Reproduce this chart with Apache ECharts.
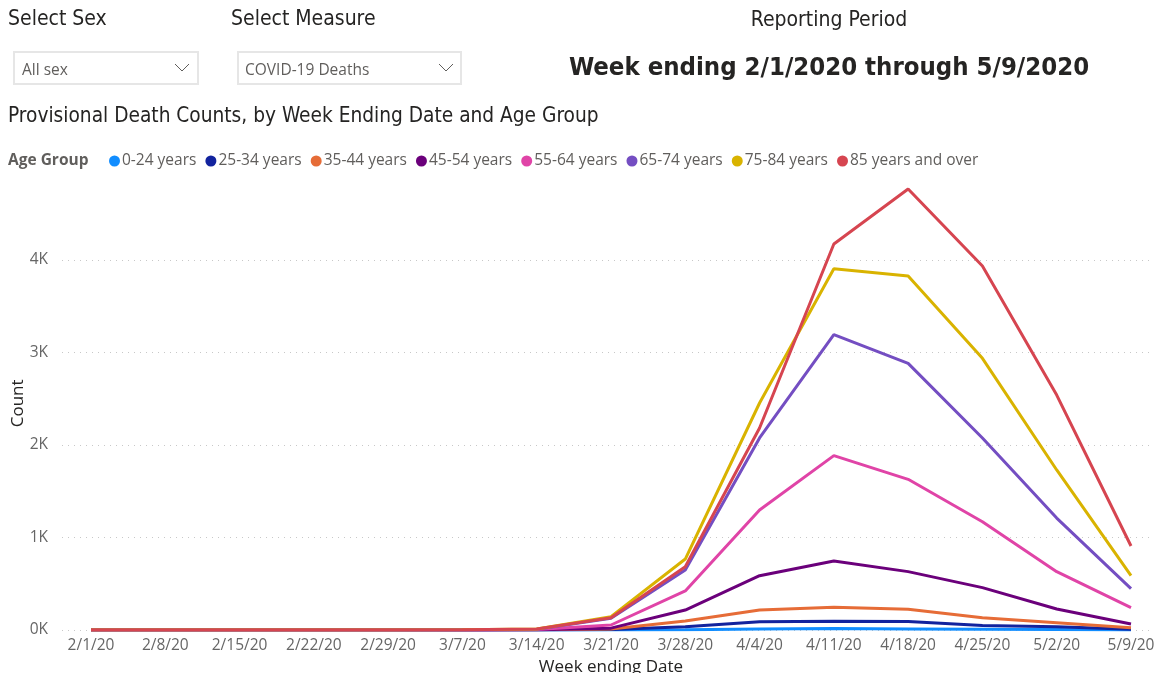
<!DOCTYPE html>
<html>
<head>
<meta charset="utf-8">
<title>Provisional Death Counts</title>
<script src="https://cdn.jsdelivr.net/npm/echarts@6/dist/echarts.min.js"></script>
<style>
  html, body { margin: 0; padding: 0; background: #fff; }
  #main { width: 1157px; height: 673px; }
</style>
</head>
<body>
<div id="main"></div>
<script>
// week ending dates
var weeks = ['2/1/20', '2/8/20', '2/15/20', '2/22/20', '2/29/20', '3/7/20', '3/14/20', '3/21/20',
  '3/28/20', '4/4/20', '4/11/20', '4/18/20', '4/25/20', '5/2/20', '5/9/20'];

// deaths per age group
var age0to24 = [0, 0, 0, 0, 0, 0, 0, 1, 4, 12, 16, 12, 9, 5, 1];
var age25to34 = [0, 0, 0, 0, 0, 0, 1, 6, 36, 90, 95, 92, 48, 36, 8];
var age35to44 = [0, 0, 0, 0, 0, 0, 2, 12, 97, 216, 245, 224, 133, 79, 25];
var age45to54 = [0, 0, 0, 0, 0, 0, 3, 20, 216, 587, 746, 631, 458, 227, 65];
var age55to64 = [0, 0, 0, 0, 0, 1, 5, 54, 422, 1297, 1885, 1629, 1171, 631, 241];
var age65to74 = [0, 0, 0, 0, 0, 1, 8, 128, 649, 2076, 3193, 2883, 2076, 1210, 447];
var age75to84 = [0, 0, 0, 0, 1, 2, 10, 144, 767, 2454, 3906, 3827, 2937, 1730, 587];
var age85plus = [0, 0, 0, 0, 1, 2, 10, 133, 684, 2184, 4173, 4768, 3935, 2540, 908];

var groupNames = ['0-24 years', '25-34 years', '35-44 years', '45-54 years',
  '55-64 years', '65-74 years', '75-84 years', '85 years and over'];
var groupData = [age0to24, age25to34, age35to44, age45to54, age55to64, age65to74, age75to84, age85plus];
var colors = ['#118DFF', '#12239E', '#E66C37', '#6B007B', '#E044A7', '#744EC2', '#D9B300', '#D64550'];

// y ticks 0K..4K, plot area runs a bit higher than the last tick
var yTickMax = 4000;
var yPlotMax = 4900;

var font = '"Segoe UI", "Open Sans", sans-serif';
var headFont = '"DejaVu Sans Condensed", "Roboto", sans-serif';

var chart = echarts.init(document.getElementById('main'));

var series = groupNames.map(function (name, i) {
  return {
    name: name,
    type: 'line',
    xAxisIndex: 1,
    yAxisIndex: 1,
    data: groupData[i],
    symbol: 'none',
    lineStyle: { width: 3, color: colors[i] },
    itemStyle: { color: colors[i] }
  };
});

var option = {
  backgroundColor: '#ffffff',
  color: colors,
  textStyle: { fontFamily: font },
  legend: {
    data: groupNames,
    left: 109,
    top: 153,
    padding: 0,
    icon: 'circle',
    itemWidth: 11,
    itemHeight: 11,
    itemGap: 9,
    textStyle: { fontSize: 15.5, color: '#605E5C', fontFamily: font, padding: [0, 0, 0, -3] }
  },
  grid: [
    // wide grid: dotted gridlines + y labels (0K..4K)
    { left: 62, right: 4, top: 260, bottom: 43, outerBoundsMode: 'none' },
    // data grid
    { left: 91, right: 26, top: 176.75, bottom: 43, outerBoundsMode: 'none' }
  ],
  xAxis: [
    { type: 'category', gridIndex: 0, data: weeks, show: false },
    {
      type: 'category',
      gridIndex: 1,
      data: weeks,
      boundaryGap: false,
      axisLine: { show: false },
      axisTick: { show: false },
      axisLabel: { interval: 0, color: '#666666', fontSize: 15.5, margin: 8, fontFamily: font },
      name: 'Week ending Date',
      nameLocation: 'middle',
      nameGap: 28,
      nameTextStyle: { fontSize: 17, color: '#252423', fontFamily: font }
    }
  ],
  yAxis: [
    {
      type: 'value',
      gridIndex: 0,
      min: 0,
      max: yTickMax,
      interval: 1000,
      axisLine: { show: false },
      axisTick: { show: false },
      axisLabel: {
        color: '#666666', fontSize: 15.5, margin: 14, fontFamily: font,
        formatter: function (v) { return (v / 1000) + 'K'; }
      },
      splitLine: { show: true, lineStyle: { color: '#C8C8C8', type: [1, 5], width: 1 } }
    },
    {
      type: 'value',
      gridIndex: 1,
      min: 0,
      max: yPlotMax,
      interval: 1000,
      axisLine: { show: false },
      axisTick: { show: false },
      axisLabel: { show: false },
      splitLine: { show: false },
      name: 'Count',
      nameLocation: 'middle',
      nameGap: 64,
      nameTextStyle: { fontSize: 17, color: '#252423', fontFamily: font }
    }
  ],
  graphic: [
    { type: 'text', x: 8, y: 20, style: { text: 'Select Sex', font: '21px ' + headFont, fill: '#252423', verticalAlign: 'middle' } },
    { type: 'text', x: 231, y: 20, style: { text: 'Select Measure', font: '21px ' + headFont, fill: '#252423', verticalAlign: 'middle' } },
    { type: 'rect', shape: { x: 14, y: 52, width: 184, height: 32 }, style: { fill: '#fff', stroke: '#E6E6E6', lineWidth: 2 } },
    { type: 'text', x: 22, y: 71, style: { text: 'All sex', font: '15.5px ' + font, fill: '#605E5C', verticalAlign: 'middle' } },
    { type: 'polyline', shape: { points: [[175, 64], [182, 71], [189, 64]] }, style: { stroke: '#605E5C', lineWidth: 1, fill: null } },
    { type: 'rect', shape: { x: 238, y: 52, width: 223, height: 32 }, style: { fill: '#fff', stroke: '#E6E6E6', lineWidth: 2 } },
    { type: 'text', x: 245, y: 71, style: { text: 'COVID-19 Deaths', font: '15.5px ' + font, fill: '#605E5C', verticalAlign: 'middle' } },
    { type: 'polyline', shape: { points: [[439, 64], [446, 71], [453, 64]] }, style: { stroke: '#605E5C', lineWidth: 1, fill: null } },
    { type: 'text', x: 829, y: 21, style: { text: 'Reporting Period', font: '21px ' + headFont, fill: '#252423', align: 'center', verticalAlign: 'middle' } },
    { type: 'text', x: 829, y: 68, style: { text: 'Week ending 2/1/2020 through 5/9/2020', font: 'bold 25.5px ' + headFont, fill: '#252423', align: 'center', verticalAlign: 'middle' } },
    { type: 'text', x: 8, y: 117, style: { text: 'Provisional Death Counts, by Week Ending Date and Age Group', font: '20.7px ' + headFont, fill: '#252423', verticalAlign: 'middle' } },
    { type: 'text', x: 8, y: 161, style: { text: 'Age Group', font: 'bold 15.5px ' + font, fill: '#605E5C', verticalAlign: 'middle' } }
  ],
  series: series
};

chart.setOption(option);
</script>
</body>
</html>
